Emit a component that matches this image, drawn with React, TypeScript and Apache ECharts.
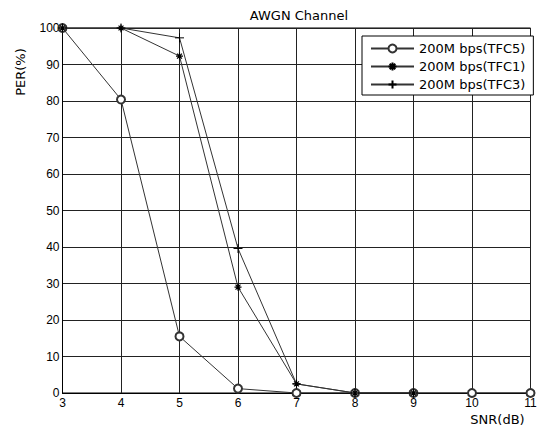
import React, { useEffect, useRef } from "react";
import * as echarts from "echarts";

const snr = [3, 4, 5, 6, 7, 8, 9, 10, 11];
const tfc5 = [100, 80.4, 15.5, 1.2, 0, 0, 0, 0, 0];
const tfc1 = [100, 100, 92.3, 29, 2.5, 0, 0];
const tfc3 = [100, 100, 97.3, 39.6, 2.5, 0, 0];
const seriesNames = ["200M bps(TFC5)", "200M bps(TFC1)", "200M bps(TFC3)"];

const FONT = "'DejaVu Sans', Arial, sans-serif";
const TICKFONT = "'Liberation Sans', Arial, sans-serif";
const plusPath = "path://M5,0L5,10M0,5L10,5";
const starPath = "path://M5,0L5,10M0,5L10,5M1.5,1.5L8.5,8.5M8.5,1.5L1.5,8.5";

export default function App() {
  const ref = useRef<HTMLDivElement>(null);
  useEffect(() => {
    if (!ref.current) return;
    const chart = echarts.init(ref.current, null, { renderer: "svg" });
    const pair = (xs: number[], ys: number[]) => ys.map((v, i) => [xs[i], v]);
    chart.setOption({
      animation: false,
      backgroundColor: "#fff",
      title: {
        text: "AWGN Channel",
        left: 294,
        top: 4,
        textAlign: "center",
        textStyle: { fontFamily: FONT, fontSize: 13, fontWeight: "normal", color: "#000" },
      },
      graphic: [
        {
          type: "text",
          x: 20,
          y: 72,
          rotation: Math.PI / 2,
          style: {
            text: "PER(%)",
            fontFamily: FONT,
            fontSize: 13,
            fill: "#000",
            align: "center",
            verticalAlign: "middle",
          },
        },
      ],
      grid: {
        left: 62.5,
        right: 14.5,
        top: 28,
        bottom: 38,
        show: true,
        borderColor: "#000",
        borderWidth: 1,
      },
      legend: {
        orient: "vertical",
        left: 362,
        top: 36,
        width: 162,
        padding: [6, 8, 4, 8],
        itemGap: 5,
        itemWidth: 43,
        itemHeight: 10,
        backgroundColor: "#fff",
        borderColor: "#000",
        borderWidth: 1,
        borderRadius: 0,
        textStyle: { fontFamily: FONT, fontSize: 13, color: "#000" },
        data: seriesNames,
      },
      xAxis: {
        type: "value",
        min: 3,
        max: 11,
        interval: 1,
        name: "SNR(dB)",
        nameLocation: "end",
        nameGap: 0,
        nameTextStyle: {
          fontFamily: FONT,
          fontSize: 13,
          color: "#000",
          align: "center",
          verticalAlign: "top",
          padding: [20, 66, 0, 0],
        },
        axisLine: { show: true, lineStyle: { color: "#000", width: 1 } },
        axisTick: { show: false },
        axisLabel: { fontFamily: TICKFONT, fontSize: 12, color: "#000", margin: 4 },
        splitLine: { show: true, lineStyle: { color: "#222", width: 1 } },
      },
      yAxis: {
        type: "value",
        min: 0,
        max: 100,
        interval: 10,
        axisLine: { show: true, lineStyle: { color: "#000", width: 1 } },
        axisTick: { show: false },
        axisLabel: { fontFamily: TICKFONT, fontSize: 12, color: "#000", margin: 3 },
        splitLine: { show: true, lineStyle: { color: "#222", width: 1 } },
      },
      series: [
        {
          name: seriesNames[0],
          type: "line",
          data: pair(snr, tfc5),
          symbol: "emptyCircle",
          symbolSize: 8,
          lineStyle: { color: "#333", width: 1 },
          itemStyle: { color: "#333", borderColor: "#222", borderWidth: 1 },
        },
        {
          name: seriesNames[1],
          type: "line",
          data: pair(snr, tfc1),
          symbol: starPath,
          symbolSize: 7,
          lineStyle: { color: "#333", width: 1 },
          itemStyle: { color: "none", borderColor: "#000", borderWidth: 1.2 },
        },
        {
          name: seriesNames[2],
          type: "line",
          data: pair(snr, tfc3),
          symbol: plusPath,
          symbolSize: 9,
          lineStyle: { color: "#333", width: 1 },
          itemStyle: { color: "none", borderColor: "#000", borderWidth: 1 },
        },
      ],
    });
    return () => chart.dispose();
  }, []);
  return <div ref={ref} style={{ width: 545, height: 431, position: "absolute", left: 0, top: 0 }} />;
}
